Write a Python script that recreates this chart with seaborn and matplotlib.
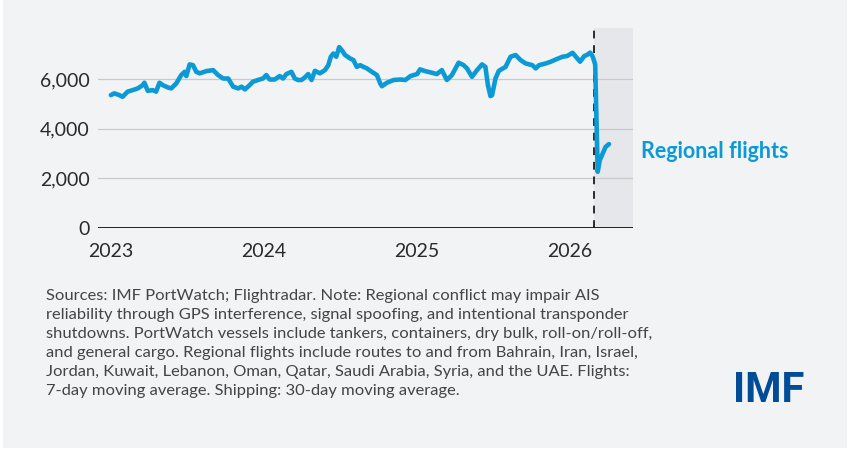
import matplotlib
matplotlib.use("Agg")
import matplotlib.pyplot as plt
import matplotlib.dates as mdates
from matplotlib.patches import Rectangle
from matplotlib.ticker import FuncFormatter
import pandas as pd
import seaborn as sns

# Regional flights, 7-day moving average
dates = [
    "2023-01-01", "2023-01-09", "2023-01-21", "2023-01-29", "2023-02-10", "2023-02-22",
    "2023-03-06", "2023-03-18", "2023-03-22", "2023-03-30", "2023-04-11", "2023-04-19",
    "2023-04-27", "2023-05-05", "2023-05-17", "2023-05-25", "2023-06-06", "2023-06-18",
    "2023-06-26", "2023-06-30", "2023-07-08", "2023-07-16", "2023-07-24", "2023-08-01",
    "2023-08-17", "2023-09-02", "2023-09-14", "2023-09-26", "2023-10-08", "2023-10-20",
    "2023-11-01", "2023-11-09", "2023-11-17", "2023-11-28", "2023-12-06", "2023-12-18",
    "2023-12-30",
    "2024-01-07", "2024-01-15", "2024-01-27", "2024-02-08", "2024-02-16", "2024-02-24",
    "2024-03-07", "2024-03-15", "2024-03-23", "2024-03-31", "2024-04-08", "2024-04-16",
    "2024-04-24", "2024-05-02", "2024-05-14", "2024-05-26", "2024-06-03", "2024-06-09",
    "2024-06-15", "2024-06-22", "2024-06-29", "2024-07-05", "2024-07-13", "2024-07-25",
    "2024-08-02", "2024-08-10", "2024-08-18", "2024-08-26", "2024-09-03", "2024-09-15",
    "2024-09-27", "2024-10-05", "2024-10-09", "2024-10-21", "2024-11-06", "2024-11-22",
    "2024-12-04", "2024-12-16",
    "2025-01-01", "2025-01-08", "2025-01-20", "2025-02-05", "2025-02-17", "2025-03-01",
    "2025-03-13", "2025-03-25", "2025-04-10", "2025-04-22", "2025-04-30", "2025-05-12",
    "2025-05-24", "2025-06-05", "2025-06-13", "2025-06-19", "2025-06-25", "2025-06-29",
    "2025-07-07", "2025-07-15", "2025-07-31", "2025-08-12", "2025-08-24", "2025-09-05",
    "2025-09-17", "2025-10-03", "2025-10-11", "2025-10-19", "2025-11-04", "2025-11-16",
    "2025-11-28", "2025-12-14", "2025-12-25",
    "2026-01-07", "2026-01-15", "2026-01-25", "2026-02-04", "2026-02-10", "2026-02-18",
    "2026-02-24", "2026-03-02", "2026-03-08", "2026-03-13", "2026-03-20",
    "2026-03-27", "2026-04-04",
]
flights = [
    5360, 5430, 5360, 5290, 5500, 5560,
    5630, 5760, 5860, 5535, 5560, 5500,
    5860, 5760, 5670, 5630, 5830, 6170,
    6300, 6130, 6600, 6570, 6300, 6240,
    6330, 6370, 6170, 6030, 6030, 5700,
    5630, 5700, 5590, 5760, 5900, 5970,
    6030,
    6170, 5990, 5990, 6130, 6030, 6210,
    6300, 6030, 5970, 5970, 6075, 6210,
    5970, 6340, 6240, 6370, 6570, 6910,
    7040, 6910, 7300, 7180, 6980, 6840,
    6775, 6500, 6570, 6500, 6440, 6300,
    6170, 5830, 5720, 5860, 5970, 5990,
    5970, 6130,
    6210, 6400, 6330, 6265, 6210, 6370,
    5970, 6170, 6670, 6570, 6440, 6100,
    6370, 6600, 6500, 5760, 5320, 5360,
    6030, 6340, 6500, 6910, 6980, 6775,
    6640, 6570, 6440, 6570, 6640, 6710,
    6800, 6910, 6940,
    7070, 6910, 6710, 6940, 6980, 7077,
    6920, 6600, 2260, 2730, 3000,
    3270, 3380,
]
year_ticks = ["2023-01-01", "2024-01-01", "2025-01-01", "2026-01-01"]
y_ticks = [0, 2000, 4000, 6000]
conflict_start = "2026-02-28"
x_range = ["2022-12-02", "2026-06-01"]

df = pd.DataFrame({"date": pd.to_datetime(dates), "flights": flights})

sns.set_style("white")
plt.rcParams["font.family"] = ["Lato", "DejaVu Sans"]

BG = "#f2f3f5"
BLUE = "#0b9ad6"

fig = plt.figure(figsize=(8.5, 4.57), dpi=100, facecolor="white")
fig.patches.append(Rectangle((3 / 850, 1 - 448 / 457), 844 / 850, 448 / 457,
                             transform=fig.transFigure, facecolor=BG,
                             edgecolor="none", zorder=-10))

ax = fig.add_axes([98.3 / 850, 1 - 227.7 / 457, 535 / 850, 199.4 / 457])
ax.set_facecolor("none")

x0, x1 = pd.to_datetime(x_range)
ax.axvspan(pd.Timestamp(conflict_start), x1, color="#e6e7ea", lw=0, zorder=0)
ax.axvline(pd.Timestamp(conflict_start), color="#2b2b2b", lw=1.4,
           ls=(0, (4, 3.5)), zorder=3)

for v in y_ticks[1:]:
    ax.axhline(v, color="#c9cacc", lw=0.9, zorder=1)
ax.axhline(0, color="#111111", lw=1.3, zorder=4)

sns.lineplot(data=df, x="date", y="flights", ax=ax, color=BLUE, lw=3.3,
             zorder=5, solid_capstyle="round", solid_joinstyle="round")

ax.set_xlim(x0, x1)
ax.set_ylim(0, 8060)
ax.set_xlabel("")
ax.set_ylabel("")
for s in ax.spines.values():
    s.set_visible(False)

ax.set_xticks(pd.to_datetime(year_ticks))
ax.xaxis.set_major_formatter(mdates.DateFormatter("%Y"))
ax.set_yticks(y_ticks)
ax.yaxis.set_major_formatter(FuncFormatter(lambda v, p: f"{int(v):,}"))
ax.tick_params(axis="x", length=5, width=1, color="#333333", direction="out",
               pad=6, labelsize=14, labelcolor="#2a2a2a")
ax.tick_params(axis="y", length=0, pad=6, labelsize=14, labelcolor="#2a2a2a")
ax.grid(False)

fig.text(641 / 850, 1 - 152 / 457, "Regional flights", color=BLUE,
         fontsize=15.5, fontweight="bold", ha="left", va="center")

note = ("Sources: IMF PortWatch; Flightradar. Note: Regional conflict may impair AIS\n"
        "reliability through GPS interference, signal spoofing, and intentional transponder\n"
        "shutdowns. PortWatch vessels include tankers, containers, dry bulk, roll-on/roll-off,\n"
        "and general cargo. Regional flights include routes to and from Bahrain, Iran, Israel,\n"
        "Jordan, Kuwait, Lebanon, Oman, Qatar, Saudi Arabia, Syria, and the UAE. Flights:\n"
        "7-day moving average. Shipping: 30-day moving average.")
fig.text(46 / 850, 1 - 289 / 457, note, color="#444444", fontsize=11.85,
         ha="left", va="top", linespacing=1.45)

fig.text(733 / 850, 1 - 391 / 457, "IMF", color="#004c97", fontsize=30,
         fontweight="bold", family=["Roboto", "DejaVu Sans"], ha="left", va="center")

fig.savefig("out.png", dpi=100, facecolor=fig.get_facecolor())
